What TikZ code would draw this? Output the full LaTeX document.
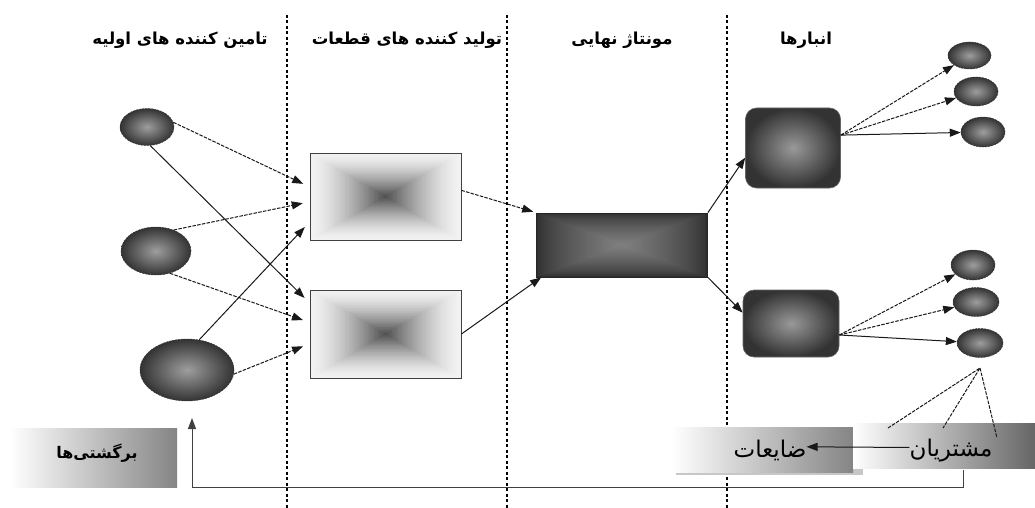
\documentclass[tikz,border=0pt]{standalone}
\usepackage{fontspec}
\newfontfamily\fa[Script=Arabic]{DejaVu Sans}
\TeXXeTstate=1
\usetikzlibrary{arrows.meta,shapes.geometric,calc}

\tikzset{
  sep/.style={black, line width=1.1pt, dash pattern=on 3pt off 2.5pt},
  head/.style={font=\fa\bfseries\fontsize{16.5}{19}\selectfont, inner sep=0pt},
  blob/.style={ellipse, draw=black!80, dash pattern=on 2pt off 1pt, line width=0.5pt,
               inner color=black!38, outer color=black!80, inner sep=0pt},
  frame/.style={rectangle, draw=black!75, line width=0.8pt, inner sep=0pt},
  store/.style={rectangle, rounded corners=11pt, draw=black!60, line width=0.6pt,
                inner color=black!40, outer color=black!80, inner sep=0pt},
  flow/.style={-{Triangle[length=11pt,width=8pt]}, line width=1pt, black!90},
  dflow/.style={flow, dash pattern=on 3.5pt off 1.3pt},
  band/.style={rectangle, inner sep=0pt, left color=white},
  word/.style={font=\fa\fontsize{23}{26}\selectfont, inner sep=0pt},
}

% nested rectangles giving a box-shaped gradient:
% centre x, centre y, half width, half height, edge tint, centre tint, curve exponent
\newcommand\nestfill[7]{%
  \foreach \k in {0,...,59}{%
    \pgfmathsetmacro\fr{1-\k/60}%
    \pgfmathsetmacro\pc{#5+(#6-#5)*(\k/59)^#7}%
    \fill[black!\pc] ({#1-#3*\fr},{#2-#4*\fr}) rectangle ({#1+#3*\fr},{#2+#4*\fr});
  }}

\begin{document}
\begin{tikzpicture}[x=1pt,y=-1pt]
\useasboundingbox (0,0) rectangle (1035,508);
\fill[white] (0,0) rectangle (1035,508);

% column separators
\coordinate (t1) at (287,15); \coordinate (b1) at (287,508);
\coordinate (t2) at (507,15); \coordinate (b2) at (507,508);
\coordinate (t3) at (727,15); \coordinate (b3) at (727,508);
\draw[sep] (t1) -- (b1);
\draw[sep] (t2) -- (b2);
\draw[sep] (t3) -- (b3);

% column titles
\node[head] (h1) at (180,40) {\beginR تامین کننده های اولیه\endR};
\node[head] (h2) at (407,40) {\beginR تولید کننده های قطعات\endR};
\node[head] (h3) at (622,40) {\beginR مونتاژ نهایی\endR};
\node[head] (h4) at (806,40) {\beginR انبارها\endR};

% raw material suppliers
\node[blob, minimum width=54pt, minimum height=37pt] (s1) at (147,127) {};
\node[blob, minimum width=70pt, minimum height=48pt] (s2) at (156,251) {};
\node[blob, minimum width=94pt, minimum height=62pt] (s3) at (187,370) {};

% part makers
\nestfill{385.5}{196.5}{75.5}{43.5}{5}{68}{1.5}
\nestfill{385.5}{334}{75.5}{44}{5}{68}{1.5}
\node[frame, minimum width=151pt, minimum height=87pt] (p1) at (385.5,196.5) {};
\node[frame, minimum width=151pt, minimum height=88pt] (p2) at (385.5,334) {};

% final assembly
\nestfill{622}{245}{85.5}{32}{82}{50}{0.7}
\node[frame, draw=black!85, minimum width=171pt, minimum height=64pt] (f) at (622,245) {};

% warehouses
\node[store, minimum width=95pt, minimum height=80pt] (w1) at (793,148) {};
\node[store, minimum width=96pt, minimum height=67pt] (w2) at (791,323.5) {};

% customers
\node[blob, minimum width=43pt, minimum height=27pt] (c1) at (969.5,55.5) {};
\node[blob, minimum width=44pt, minimum height=29pt] (c2) at (976,91.5) {};
\node[blob, minimum width=44pt, minimum height=30pt] (c3) at (983,132) {};
\node[blob, minimum width=44pt, minimum height=30pt] (c4) at (973,265) {};
\node[blob, minimum width=46pt, minimum height=29pt] (c5) at (976,302) {};
\node[blob, minimum width=46pt, minimum height=29pt] (c6) at (980,343) {};

% suppliers -> part makers
\draw[dflow, shorten >=7pt] (s1.10) -- ($(p1.north west)!0.39!(p1.south west)$);
\draw[flow,  shorten >=7pt] (s1.-80) -- ($(p2.north west)!0.15!(p2.south west)$);
\draw[dflow, shorten >=7pt] (s2.50) -- ($(p1.north west)!0.56!(p1.south west)$);
\draw[dflow, shorten >=7pt] (s2.-58) -- ($(p2.north west)!0.37!(p2.south west)$);
\draw[flow,  shorten >=7pt] (s3.68) -- ($(p1.north west)!0.79!(p1.south west)$);
\draw[dflow, shorten >=7pt] (s3.-5) -- ($(p2.north west)!0.61!(p2.south west)$);

% part makers -> final assembly
\draw[dflow, shorten >=3pt] ($(p1.north east)!0.43!(p1.south east)$) -- (f.north west);
\draw[flow] (p2.east) -- ($(f.south west)+(5,0)$);

% final assembly -> warehouses
\draw[flow] (f.north east) -- ($(w1.north west)!0.62!(w1.south west)$);
\draw[flow] (f.south east) -- ($(w2.north west)!0.34!(w2.south west)$);

% warehouses -> customers
\coordinate (o1) at ($(w1.north east)!0.34!(w1.south east)$);
\coordinate (o2) at ($(w2.north east)!0.67!(w2.south east)$);
\draw[dflow] (o1) -- (c1);
\draw[dflow] (o1) -- (c2);
\draw[flow]  (o1) -- (c3);
\draw[dflow] (o2) -- (c4);
\draw[dflow] (o2) -- (c5);
\draw[flow]  (o2) -- (c6);

% bottom bands
\node[band, right color=black!48, minimum width=167pt, minimum height=59pt] (retbox) at (93.5,457.5) {};
\fill[black!22] (676,431) rectangle (863,475);
\node[band, right color=black!48, minimum width=181pt, minimum height=45pt] (wastebox) at (762.5,449.5) {};
\node[band, right color=black!60, minimum width=182pt, minimum height=45pt] (custbox) at (944,445.5) {};

\node[font=\fa\bfseries\fontsize{16}{19}\selectfont, inner sep=0pt] (ret) at (97,453) {\beginR برگشتی‌ها\endR};
\node[word] (waste) at (770,450) {\beginR ضایعات\endR};
\node[word] (cust) at (951,451) {\beginR مشتریان\endR};

% customers gathered
\coordinate (hub) at (980,368);
\coordinate (k1) at (888,428);
\coordinate (k2) at (943,428);
\coordinate (k3) at (997,438);
\draw[black!90, line width=1pt, dash pattern=on 3.5pt off 1.3pt] (k1) -- (hub) -- (k2);
\draw[black!90, line width=1pt, dash pattern=on 3.5pt off 1.3pt] (hub) -- (k3);

% customers -> waste
\draw[flow] ($(cust.north west)!0.35!(cust.south west)$) -- ($(waste.north east)!0.35!(waste.south east)$);

% returns loop back to the suppliers
\coordinate (rs) at (963,470);
\coordinate (re) at (192,418);
\draw[flow, black!75, line width=1pt] (rs) -- ++(0,17) -| (re);
\end{tikzpicture}
\end{document}
